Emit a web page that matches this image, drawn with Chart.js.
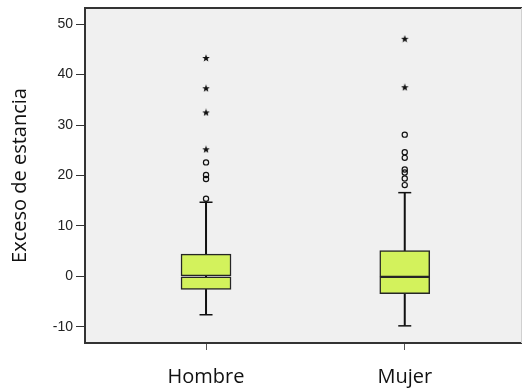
<!DOCTYPE html>
<html>
<head>
<meta charset="utf-8">
<script src="https://cdn.jsdelivr.net/npm/chart.js@4/dist/chart.umd.min.js"></script>
<style>
  html, body { margin: 0; padding: 0; background: #fff; overflow: hidden; }
  #wrap { width: 523px; height: 390px; }
</style>
</head>
<body>
<div id="wrap"><canvas id="myChart"></canvas></div>
<script>
// datos
var categories = ["Hombre", "Mujer"];
var q1 = [-2.6, -3.4];
var median = [0, -0.1];
var q3 = [4.4, 5.1];
var whiskerLow = [-7.6, -9.8];
var whiskerHigh = [14.7, 16.6];
var circleOutliers = [
    [15.4, 19.3, 20.1, 22.6],
    [18.1, 19.4, 20.6, 21.2, 23.5, 24.6, 28.1]
];
var starOutliers = [
    [25.2, 32.5, 37.3, 43.3],
    [37.5, 47.1]
];
var yTicks = [-10, 0, 10, 20, 30, 40, 50];

document.addEventListener("DOMContentLoaded", function () {
    var canvas = document.getElementById("myChart");
    if (!canvas) {
        console.error("El canvas 'myChart' no existe en el DOM.");
        return;
    }

    // estrella rellena para los valores extremos
    var star = document.createElement("canvas");
    star.width = 8;
    star.height = 8;
    var sctx = star.getContext("2d");
    sctx.fillStyle = "#111";
    sctx.beginPath();
    for (var i = 0; i < 10; i++) {
        var r = i % 2 === 0 ? 4 : 1.7;
        var a = -Math.PI / 2 + i * Math.PI / 5;
        var px = 4 + r * Math.cos(a), py = 4.3 + r * Math.sin(a);
        if (i === 0) sctx.moveTo(px, py); else sctx.lineTo(px, py);
    }
    sctx.closePath();
    sctx.fill();

    var lowerHalf = [], upperHalf = [], whiskers = [], caps = [], circles = [], stars = [];
    categories.forEach(function (c, k) {
        var x = k + 1;
        lowerHalf.push({ x: x, y: [q1[k], median[k]] });
        upperHalf.push({ x: x, y: [median[k], q3[k]] });
        whiskers.push({ x: x, y: whiskerLow[k] }, { x: x, y: whiskerHigh[k] }, { x: x, y: null });
        caps.push({ x: x, y: whiskerLow[k] }, { x: x, y: whiskerHigh[k] });
        circleOutliers[k].forEach(function (v) { circles.push({ x: x, y: v }); });
        starOutliers[k].forEach(function (v) { stars.push({ x: x, y: v }); });
    });

    var boxStyle = {
        type: "bar",
        backgroundColor: "#d3f25c",
        borderColor: "#262626",
        borderWidth: 1.5,
        borderSkipped: false,
        barThickness: 50,
        grouped: false,
        order: 1
    };

    var framePlugin = {
        id: "frame",
        beforeDraw: function (chart) {
            var a = chart.chartArea, ctx = chart.ctx;
            ctx.save();
            ctx.fillStyle = "#f0f0f0";
            ctx.fillRect(a.left, a.top, a.right - a.left, a.bottom - a.top);
            ctx.restore();
        },
        afterDraw: function (chart) {
            var a = chart.chartArea, ctx = chart.ctx;
            ctx.save();
            ctx.strokeStyle = "#333";
            ctx.lineWidth = 2;
            ctx.beginPath();
            ctx.moveTo(a.right, a.top);
            ctx.lineTo(a.left, a.top);
            ctx.lineTo(a.left, a.bottom);
            ctx.lineTo(a.right, a.bottom);
            ctx.stroke();
            ctx.strokeStyle = "#d0d0d0";
            ctx.lineWidth = 1;
            ctx.beginPath();
            ctx.moveTo(a.right - 0.5, a.top);
            ctx.lineTo(a.right - 0.5, a.bottom);
            ctx.stroke();
            ctx.restore();
        }
    };

    new Chart(canvas.getContext("2d"), {
        type: "bar",
        data: {
            datasets: [
                Object.assign({ label: "Q1-Mediana", data: lowerHalf }, boxStyle),
                Object.assign({ label: "Mediana-Q3", data: upperHalf }, boxStyle),
                {
                    type: "line",
                    label: "Bigotes",
                    data: whiskers,
                    borderColor: "#111",
                    borderWidth: 2,
                    pointRadius: 0,
                    spanGaps: false,
                    order: 3
                },
                {
                    type: "scatter",
                    label: "Topes",
                    data: caps,
                    pointStyle: "line",
                    pointRadius: 6.5,
                    borderColor: "#111",
                    borderWidth: 1.5,
                    order: 2
                },
                {
                    type: "scatter",
                    label: "Atipicos",
                    data: circles,
                    pointStyle: "circle",
                    pointRadius: 2.6,
                    borderColor: "#111",
                    borderWidth: 1.2,
                    backgroundColor: "rgba(0,0,0,0)",
                    order: 0
                },
                {
                    type: "scatter",
                    label: "Extremos",
                    data: stars,
                    pointStyle: star,
                    order: 0
                }
            ]
        },
        options: {
            responsive: true,
            maintainAspectRatio: false,
            animation: false,
            layout: { autoPadding: false, padding: { top: 8, right: 1, left: 0, bottom: 0 } },
            plugins: {
                legend: { display: false },
                tooltip: { enabled: false }
            },
            scales: {
                x: {
                    type: "linear",
                    offset: false,
                    min: 0.391,
                    max: 2.59,
                    afterBuildTicks: function (scale) {
                        scale.ticks = categories.map(function (c, k) { return { value: k + 1 }; });
                    },
                    afterFit: function (scale) {
                        scale.height = 47;
                        scale.paddingLeft = 0;
                        scale.paddingRight = 0;
                    },
                    border: { display: false },
                    grid: {
                        offset: false,
                        drawOnChartArea: false,
                        tickLength: 7,
                        color: "#555",
                        lineWidth: 1
                    },
                    ticks: {
                        autoSkip: false,
                        maxRotation: 0,
                        padding: 15,
                        color: "#111",
                        font: { family: "'Open Sans'", size: 20 },
                        callback: function (v) { return categories[v - 1]; }
                    }
                },
                y: {
                    type: "linear",
                    min: -13.2,
                    max: 53.2,
                    afterBuildTicks: function (scale) {
                        scale.ticks = yTicks.map(function (v) { return { value: v }; });
                    },
                    afterFit: function (scale) {
                        scale.width = 85;
                        scale.paddingTop = 0;
                        scale.paddingBottom = 0;
                    },
                    border: { display: false },
                    grid: {
                        drawOnChartArea: false,
                        tickLength: 9,
                        color: "#333",
                        lineWidth: 1
                    },
                    ticks: {
                        padding: 3,
                        color: "#222",
                        font: { family: "'Liberation Sans'", size: 14 }
                    },
                    title: {
                        display: true,
                        text: "Exceso de estancia",
                        color: "#111",
                        padding: { top: 8, bottom: 0 },
                        font: { family: "'Open Sans'", size: 20 }
                    }
                }
            }
        },
        plugins: [framePlugin]
    });
});
</script>
</body>
</html>
